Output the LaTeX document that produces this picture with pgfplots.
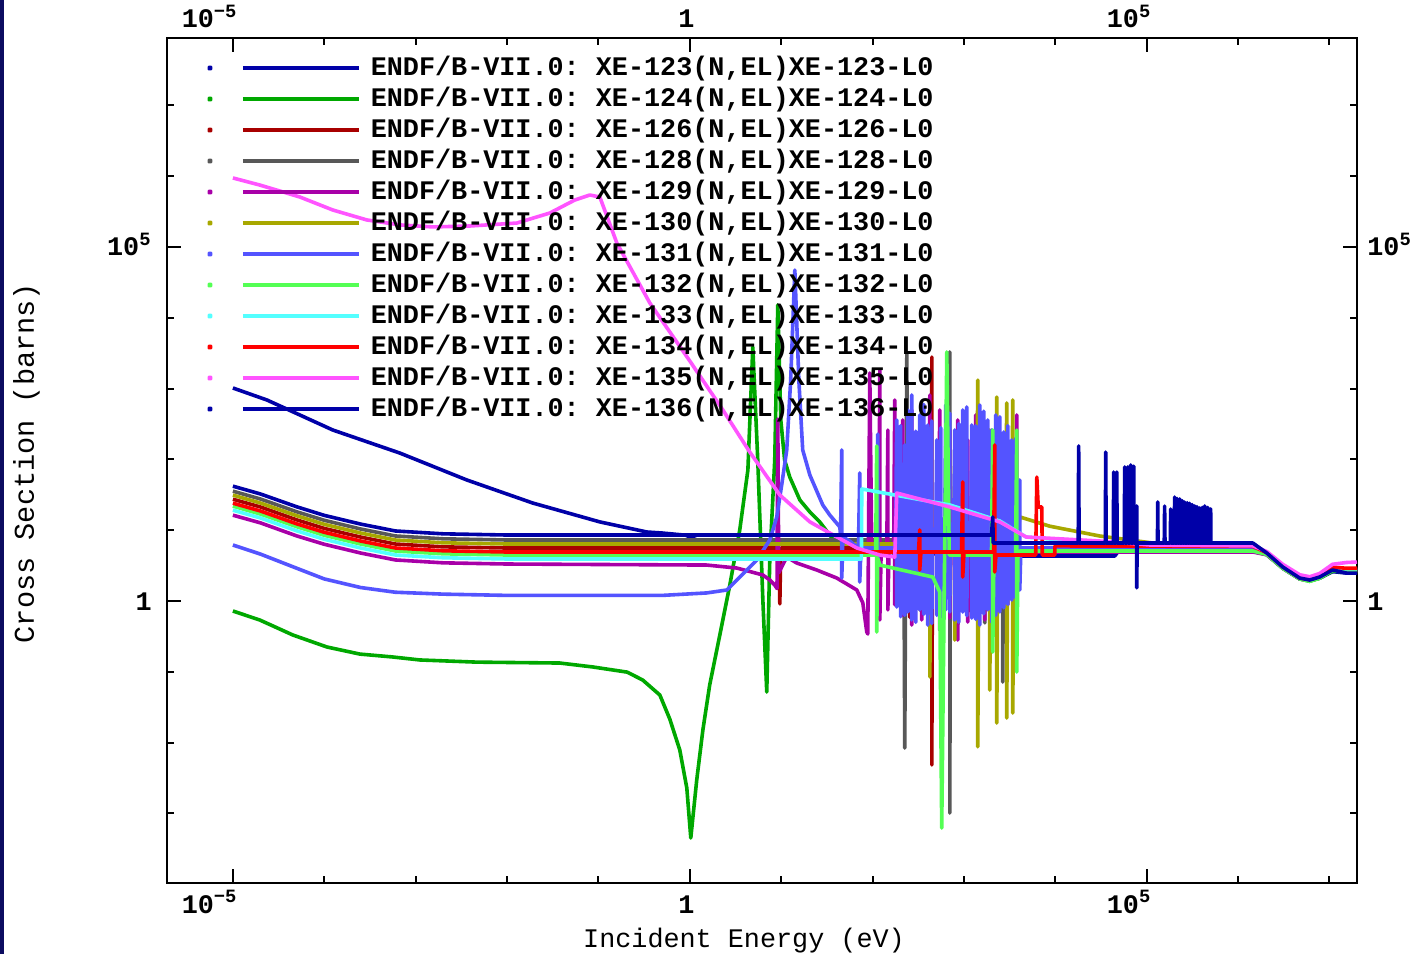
\documentclass[border=0pt]{standalone}
\usepackage{fontspec}
\setmainfont{Liberation Mono}
\usepackage{pgfplots}
\pgfplotsset{compat=1.18}
\frenchspacing
\definecolor{cA}{RGB}{0,0,168}
\definecolor{cB}{RGB}{0,168,0}
\definecolor{cC}{RGB}{168,0,0}
\definecolor{cD}{RGB}{88,88,88}
\definecolor{cE}{RGB}{168,0,168}
\definecolor{cF}{RGB}{168,168,0}
\definecolor{cG}{RGB}{84,84,255}
\definecolor{cH}{RGB}{84,255,84}
\definecolor{cI}{RGB}{84,255,255}
\definecolor{cJ}{RGB}{255,0,0}
\definecolor{cK}{RGB}{255,84,255}
\definecolor{navyband}{RGB}{12,12,96}
\newcommand{\fs}{\fontsize{13.4}{16}\selectfont}
\begin{document}
\begin{tikzpicture}
\useasboundingbox (-83.5pt,-35.5pt) rectangle (626pt,441.5pt);
\fill[white] (-83.5pt,-35.5pt) rectangle (626pt,441.5pt);
\fill[navyband] (-83.5pt,-35.5pt) rectangle (-81.5pt,441.5pt);
\begin{axis}[
  at={(0pt,0pt)}, anchor=south west, scale only axis, width=595pt, height=422.5pt,
  xmode=log, ymode=log, xmin=1.9e-6, xmax=2e7, ymin=1.04e-4, ymax=8.95e7,
  xtick={1e-5,1,1e5}, xticklabels={{10\textsuperscript{−5}},{1},{10\textsuperscript{5}}},
  ytick={1,1e5}, yticklabels={{1},{10\textsuperscript{5}}},
  minor xtick={1e-4,1e-3,1e-2,1e-1,10,100,1e3,1e4,1e6,1e7},
  minor ytick={1e-4,1e-3,1e-2,1e-1,10,100,1e3,1e4,1e6,1e7},
  tick align=inside, major tick length=7pt, minor tick length=3.5pt,
  every tick/.style={black, line width=1pt},
  axis line style={black, line width=1.2pt},
  xticklabel style={anchor=north east, xshift=2.5pt, inner xsep=0pt, inner ysep=6pt, text height=9pt, text depth=0pt, font=\bfseries\fs},
  yticklabel style={anchor=east, inner xsep=7.5pt, inner ysep=0pt, text height=9pt, text depth=0pt, font=\bfseries\fs},
  xlabel={Incident Energy (eV)}, ylabel={Cross Section (barns)},
  every axis x label/.style={at={(axis description cs:0.4849,-0.0769)}, anchor=base, font=\fs},
  every axis y label/.style={at={(axis description cs:-0.1118,0.497)}, anchor=base, rotate=90, font=\fontsize{14.3}{17}\selectfont},
  every axis plot/.append style={line width=1.8pt, line join=round},
  no markers,
  legend cell align=left,
  legend style={at={(axis description cs:0.0336,0.9775)}, anchor=north west, draw=none, fill=none,
    inner sep=0pt, outer sep=0pt, row sep=4.5pt, font=\bfseries\fs,
    nodes={inner sep=0pt, text height=9pt, text depth=2pt}},
  legend image code/.code={
    \fill (0pt,0pt) circle (0.6pt);
    \draw[line width=2pt] (16.5pt,0pt) -- (74.5pt,0pt);
    \path (79.5pt,0pt);
  },
]
% XE-123
\addplot[cA] coordinates {(1e-5,1020) (2.36e-5,690) (1.24e-4,260) (6.7e-4,123) (3.63e-3,51.2) (1.91e-2,24.2) (0.1035,13.1) (0.339,9.43) (0.495,9.13) (0.9,8.5) (1.19,7.3) (2.3,5.61) (10.4,5.25) (100,4.9) (1000,4.5) (4080,4.32) (4.47e4,4.32) (4.82e4,4.92) (1.45e6,5.25) (2.06e6,4.6) (3.08e6,2.9) (4.72e6,2.05) (6.07e6,1.95) (7.81e6,2.1) (1.08e7,2.6) (1.54e7,2.48) (2e7,2.48)};
\addlegendentry{ENDF/B-VII.0: XE-123(N,EL)XE-123-L0}
% XE-124
\addplot[cB] coordinates {(1e-5,0.722) (1.97e-5,0.539) (4.53e-5,0.331) (1.07e-4,0.224) (2.45e-4,0.178) (5.6e-4,0.162) (1.11e-3,0.147) (4.65e-3,0.137) (3.78e-2,0.133) (8.7e-2,0.117) (0.206,0.099) (0.305,0.0766) (0.47,0.047) (0.604,0.0215) (0.777,0.00786) (0.927,0.00229) (1.025,0.00045) (1.19,0.00296) (1.39,0.0151) (1.65,0.0651) (2.13,0.331) (2.74,1.68) (3.52,10.1) (4.32,70.8) (4.89,3870) (5.54,98) (6.3,1.03) (6.95,0.0519) (7.5,3.79) (8.5,98) (9.18,15200) (9.9,360) (10.9,98) (12.4,56.4) (16.0,26.7) (20.6,18.1) (26.4,13.1) (36.7,7.51) (56.3,5.79) (93.2,5.25) (1000,5.08) (1.45e6,5.08) (2.06e6,4.5) (3.08e6,2.9) (4.72e6,2.05) (6.07e6,1.9) (7.81e6,2.1) (1.08e7,2.65) (1.54e7,2.57) (2e7,2.57)};
\addlegendentry{ENDF/B-VII.0: XE-124(N,EL)XE-124-L0}
% XE-126
\addplot[cC] coordinates {(1e-5,27.4) (2e-5,21.3) (5e-5,14.0) (1e-4,10.6) (2.5e-4,8.0) (6e-4,6.38) (2e-3,5.82) (1e-2,5.6) (9.4,5.6) (9.66,0.91) (9.9,5.6) (250,5.6) (255,171) (255,0.59) (262,5.6) (440,5.6) (445,2790) (445,0.00483) (452,5.6) (4080,5.6) (1.45e6,5.6) (2.06e6,4.6) (3.08e6,2.95) (4.72e6,2.08) (6.07e6,1.95) (7.81e6,2.15) (1.08e7,2.8) (1.54e7,2.7) (2e7,2.7)};
\addlegendentry{ENDF/B-VII.0: XE-126(N,EL)XE-126-L0}
% XE-128
\addplot[cD] coordinates {(1e-5,35.6) (2e-5,27.6) (5e-5,18.2) (1e-4,13.8) (2.5e-4,10.4) (6e-4,8.29) (2e-3,7.56) (1e-2,7.27) (220,7.27) (225,0.0084) (231,7.27) (237,3185) (242,7.27) (322,7.27) (328,188) (328,0.75) (334,7.27) (690,7.27) (700,3290) (700,0.00101) (710,7.27) (1660,7.27) (1690,260) (1690,0.49) (1720,7.27) (2620,7.27) (2660,70.8) (2660,0.0718) (2700,7.27) (4080,6.6) (1.45e6,6.18) (2.06e6,4.7) (3.08e6,3.0) (4.72e6,2.1) (6.07e6,1.97) (7.81e6,2.17) (1.08e7,2.8) (1.54e7,2.7) (2e7,2.7)};
\addlegendentry{ENDF/B-VII.0: XE-128(N,EL)XE-128-L0}
% XE-129
\addplot[cE] coordinates {(1e-5,16.3) (2e-5,12.7) (5e-5,8.3) (1e-4,6.33) (2.5e-4,4.76) (6e-4,3.80) (2e-3,3.46) (1e-2,3.33) (1.53,3.22) (3.27,2.92) (6.3,2.33) (7.5,1.98) (8.5,1.68) (9.0,1.5) (9.18,372) (9.4,2.5) (11.5,4.18) (14.8,3.44) (24.5,2.74) (40.6,2.11) (67.2,1.43) (78.2,0.94) (86.4,0.365) (88.6,0.342) (93.2,1660) (98,4.92) (117,4.92) (120,1830) (120,0.54) (124,4.92) (143,4.92) (147,260) (147,0.75) (151,4.92) (170,4.92) (175,690) (175,0.88) (180,4.92) (208,4.92) (214,360) (214,0.63) (220,4.92) (260,4.92) (268,499) (268,0.458) (276,4.92) (335,4.92) (345,188) (345,0.54) (355,4.92) (410,4.92) (423,812) (423,0.75) (436,4.92) (527,4.92) (543,499) (543,0.39) (559,4.92) (680,4.92) (700,260) (700,0.575) (720,4.92) (830,4.92) (855,360) (855,0.281) (880,4.92) (1068,4.92) (1101,188) (1101,0.505) (1134,4.92) (1305,4.92) (1345,424) (1345,0.70) (1385,4.92) (1640,4.92) (1690,260) (1690,0.54) (1740,4.92) (2110,4.92) (2173,136) (2173,0.458) (2240,4.92) (2920,4.92) (3013,188) (3013,0.88) (3100,4.92) (3670,4.92) (3785,424) (3785,2.33) (3900,4.92) (1.45e6,4.92) (2.06e6,4.5) (3.08e6,2.9) (4.72e6,2.05) (6.07e6,1.95) (7.81e6,2.15) (1.08e7,2.8) (1.54e7,2.7) (2e7,2.7)};
\addlegendentry{ENDF/B-VII.0: XE-129(N,EL)XE-129-L0}
% XE-130
\addplot[cF] coordinates {(1e-5,31.3) (2e-5,24.2) (5e-5,16.0) (1e-4,12.1) (2.5e-4,9.12) (6e-4,7.27) (2e-3,6.64) (1e-2,6.38) (410,6.38) (423,70.8) (423,0.0845) (436,6.38) (770,6.38) (793,136) (793,0.281) (816,6.38) (1375,6.38) (1416,1320) (1416,0.0087) (1458,6.38) (1860,6.38) (1915,260) (1915,0.0553) (1970,6.38) (2220,6.38) (2285,760) (2285,0.0189) (2350,6.38) (2850,6.38) (2937,626) (2937,0.0222) (3020,6.38) (3320,6.38) (3420,690) (3420,0.0262) (3520,6.38) (3800,6.38) (4080,15.4) (8670,11.4) (3.06e4,8.28) (1.16e5,6.59) (1.45e6,6.3) (2.06e6,4.8) (3.08e6,3.05) (4.72e6,2.12) (6.07e6,2.0) (7.81e6,2.2) (1.08e7,2.85) (1.54e7,2.75) (2e7,2.75)};
\addlegendentry{ENDF/B-VII.0: XE-130(N,EL)XE-130-L0}
% XE-131
\addplot[cG] coordinates {(1e-5,6.18) (2e-5,4.6) (5e-5,2.9) (1e-4,2.05) (2.5e-4,1.55) (6e-4,1.33) (2e-3,1.25) (1e-2,1.2) (0.5,1.2) (1.53,1.3) (2.54,1.43) (3.52,2.18) (5.41,3.79) (7.5,7.27) (8.95,15.4) (10.2,46.4) (11.5,136) (12.7,1320) (14.1,47300) (15.6,1320) (17.2,136) (20.6,60) (28.5,22.7) (34.0,16.4) (43.8,11.1) (44.6,8.5) (46,136) (46,2.11) (47.4,8.0) (56.3,7.0) (70,5.61) (72.4,64.3) (72.4,1.85) (74.6,5.61) (110,5.61) (114,228) (114,3.79) (117,5.61) (178,5.61) (184,360) (184,0.82) (190,5.61) (200,5.61) (203,300) (203,0.6) (206,5.61) (218,5.61) (225,160) (225,0.63) (232,5.61) (239,5.61) (243,500) (243,0.7) (247,5.61) (260,5.61) (268,812) (268,0.54) (276,5.61) (293,5.61) (297,250) (297,0.5) (301,5.61) (318,5.61) (328,424) (328,0.75) (338,5.61) (358,5.61) (363,600) (363,0.65) (368,5.61) (390,5.61) (402,306) (402,0.458) (414,5.61) (438,5.61) (445,350) (445,0.48) (452,5.61) (489,5.61) (504,188) (504,0.63) (519,5.61) (549,5.61) (557,280) (557,0.6) (565,5.61) (613,5.61) (632,586) (632,0.75) (651,5.61) (690,5.61) (700,450) (700,0.7) (710,5.61) (769,5.61) (793,260) (793,0.54) (817,5.61) (864,5.61) (877,320) (877,0.5) (890,5.61) (941,5.61) (970,499) (970,0.70) (999,5.61) (1058,5.61) (1074,550) (1074,0.62) (1090,5.61) (1180,5.61) (1217,306) (1217,0.575) (1254,5.61) (1325,5.61) (1345,300) (1345,0.55) (1365,5.61) (1444,5.61) (1489,586) (1489,0.458) (1534,5.61) (1623,5.61) (1648,480) (1648,0.66) (1673,5.61) (1765,5.61) (1820,360) (1820,0.75) (1875,5.61) (1984,5.61) (2014,260) (2014,0.5) (2044,5.61) (2161,5.61) (2228,424) (2228,0.63) (2295,5.61) (2429,5.61) (2466,400) (2466,0.7) (2503,5.61) (2641,5.61) (2723,244) (2723,0.80) (2805,5.61) (2968,5.61) (3013,300) (3013,0.9) (3058,5.61) (3234,5.61) (3334,188) (3334,1.03) (3434,5.61) (3635,5.61) (3690,200) (3690,1.1) (3745,5.61) (3958,5.61) (4080,51.2) (4080,1.43) (4200,5.61) (1.45e6,5.61) (2.06e6,4.6) (3.08e6,2.95) (4.72e6,2.08) (6.07e6,1.95) (7.81e6,2.15) (1.08e7,2.8) (1.54e7,2.7) (2e7,2.7)};
\addlegendentry{ENDF/B-VII.0: XE-131(N,EL)XE-131-L0}
% XE-132
\addplot[cH] coordinates {(1e-5,21.9) (2e-5,16.9) (5e-5,11.2) (1e-4,8.47) (2.5e-4,6.38) (6e-4,5.08) (2e-3,4.64) (1e-2,4.46) (108,4.46) (111,155) (111,0.365) (114,4.0) (120,3.22) (456,2.18) (543,1.34) (571,0.00062) (649,3290) (690,4.46) (2000,4.46) (2066,260) (2066,0.19) (2130,4.46) (3670,4.46) (3785,260) (3785,0.099) (3900,4.46) (4080,5.08) (1.45e6,5.08) (2.06e6,4.55) (3.08e6,2.9) (4.72e6,2.05) (6.07e6,1.9) (7.81e6,2.1) (1.08e7,2.7) (1.54e7,2.6) (2e7,2.6)};
\addlegendentry{ENDF/B-VII.0: XE-132(N,EL)XE-132-L0}
% XE-133
\addplot[cI] coordinates {(1e-5,19.2) (2e-5,14.9) (5e-5,9.8) (1e-4,7.45) (2.5e-4,5.61) (6e-4,4.47) (2e-3,4.08) (1e-2,3.92) (75.5,3.92) (76.2,38.2) (154,32.4) (700,22.7) (2466,13.5) (4790,8.0) (3.06e4,6.59) (1.45e6,6.0) (2.06e6,4.8) (3.08e6,3.1) (4.72e6,2.15) (6.07e6,2.02) (7.81e6,2.25) (1.08e7,2.95) (1.54e7,2.85) (2e7,2.85)};
\addlegendentry{ENDF/B-VII.0: XE-133(N,EL)XE-133-L0}
% XE-134
\addplot[cJ] coordinates {(1e-5,24.1) (2e-5,18.7) (5e-5,12.3) (1e-4,9.35) (2.5e-4,7.04) (6e-4,5.61) (2e-3,5.12) (1e-2,4.92) (318,4.92) (328,10.1) (328,2.74) (338,4.92) (940,4.92) (970,48) (970,2.18) (1000,4.92) (2110,4.92) (2173,160) (2173,2.57) (2240,4.46) (6100,4.46) (6270,56.4) (6500,21.3) (7100,21.3) (7200,4.46) (9840,4.46) (9900,6.0) (1.45e6,5.9) (2.06e6,4.8) (3.08e6,3.05) (4.72e6,2.12) (6.07e6,2.0) (7.81e6,2.25) (1.08e7,3.0) (1.54e7,2.9) (2e7,2.9)};
\addlegendentry{ENDF/B-VII.0: XE-134(N,EL)XE-134-L0}
% XE-135
\addplot[cK] coordinates {(1e-5,9.44e5) (1.97e-5,7.5e5) (5.41e-5,5.08e5) (1.24e-4,3.33e5) (2.92e-4,2.41e5) (6.72e-4,2.05e5) (1.54e-3,1.92e5) (3.92e-3,1.98e5) (1.28e-2,2.18e5) (2.94e-2,3.02e5) (5.52e-2,4.61e5) (8.05e-2,5.42e5) (0.1036,5.08e5) (0.159,1.14e5) (0.365,1.62e4) (1.0,2455) (2.3,499) (4.53,127) (9.66,31.4) (20.6,13.1) (34,9.13) (67.2,5.61) (120,4.46) (175,4.18) (184,33.5) (700,21.3) (2466,13.1) (4790,8.02) (3.06e4,7.04) (1.08e5,6.18) (1.45e6,6.0) (2.06e6,5.0) (3.08e6,3.3) (4.72e6,2.35) (6.07e6,2.2) (7.81e6,2.45) (1.08e7,3.3) (1.54e7,3.5) (2e7,3.55)};
\addlegendentry{ENDF/B-VII.0: XE-135(N,EL)XE-135-L0}
% XE-136
\addplot[cA] coordinates {(1e-5,41.9) (2e-5,32.5) (5e-5,21.4) (1e-4,16.2) (2.5e-4,12.2) (6e-4,9.75) (2e-3,8.89) (1e-2,8.55) (2000,8.55) (2066,15.4) (2090,6.59)
 (1.78e4,6.59) (1.8e4,155) (1.82e4,6.59)
 (3.52e4,6.59) (3.56e4,127) (3.6e4,6.59)
 (4.31e4,6.59) (4.35e4,66.3) (4.39e4,6.59)
 (4.65e4,6.59) (4.7e4,66.3) (4.75e4,6.59)
 (5.68e4,6.59) (5.74e4,78.2) (5.8e4,6.59)
 (6.14e4,6.59) (6.2e4,78.2) (6.26e4,6.59)
 (6.61e4,6.59) (6.68e4,83.4) (6.75e4,6.59)
 (7.14e4,6.59) (7.21e4,80) (7.28e4,6.59)
 (7.7e4,6.59) (7.78e4,22) (7.78e4,1.53) (7.86e4,6.59)
 (1.31e5,6.59) (1.32e5,25) (1.33e5,6.59)
 (1.555e5,6.59) (1.57e5,21.9) (1.585e5,6.59)
 (1.81e5,6.59) (1.83e5,19.9) (1.85e5,6.59)
 (2.0e5,6.59) (2.02e5,29.4) (2.04e5,6.59)
 (2.13e5,6.59) (2.15e5,28) (2.17e5,6.59)
 (2.28e5,6.59) (2.3e5,27.6) (2.32e5,6.59)
 (2.43e5,6.59) (2.45e5,26) (2.47e5,6.59)
 (2.58e5,6.59) (2.6e5,25) (2.62e5,6.59)
 (2.76e5,6.59) (2.78e5,24.5) (2.8e5,6.59)
 (2.93e5,6.59) (2.95e5,24) (2.97e5,6.59)
 (3.13e5,6.59) (3.15e5,23) (3.17e5,6.59)
 (3.33e5,6.59) (3.35e5,22) (3.37e5,6.59)
 (3.53e5,6.59) (3.55e5,21.5) (3.57e5,6.59)
 (3.78e5,6.59) (3.8e5,20.6) (3.82e5,6.59)
 (4.03e5,6.59) (4.05e5,21) (4.07e5,6.59)
 (4.29e5,6.59) (4.31e5,22) (4.33e5,6.59)
 (4.63e5,6.59) (4.65e5,21) (4.67e5,6.59)
 (4.99e5,6.59) (5.01e5,20) (5.03e5,6.59)
 (1.45e6,6.59) (2.06e6,4.76) (3.08e6,3.02) (4.72e6,2.11) (6.07e6,1.98) (7.81e6,2.18) (1.08e7,2.74) (1.54e7,2.48) (2e7,2.48)};
\addlegendentry{ENDF/B-VII.0: XE-136(N,EL)XE-136-L0}
\end{axis}
\begin{axis}[
  at={(0pt,0pt)}, anchor=south west, scale only axis, width=595pt, height=422.5pt,
  xmode=log, ymode=log, xmin=1.9e-6, xmax=2e7, ymin=1.04e-4, ymax=8.95e7,
  xtick={1e-5,1,1e5}, xticklabels={{10\textsuperscript{−5}},{1},{10\textsuperscript{5}}},
  ytick={1,1e5}, yticklabels={{1},{10\textsuperscript{5}}},
  minor xtick={}, minor ytick={},
  xticklabel pos=upper, yticklabel pos=right,
  major tick length=0pt, axis line style={draw=none},
  xticklabel style={anchor=south east, xshift=2.5pt, inner xsep=0pt, inner ysep=5pt, text height=9pt, text depth=0pt, font=\bfseries\fs},
  yticklabel style={anchor=west, inner xsep=5pt, inner ysep=0pt, text height=9pt, text depth=0pt, font=\bfseries\fs},
]
\addplot[draw=none] coordinates {(1,1) (10,10)};
\end{axis}
\end{tikzpicture}
\end{document}
